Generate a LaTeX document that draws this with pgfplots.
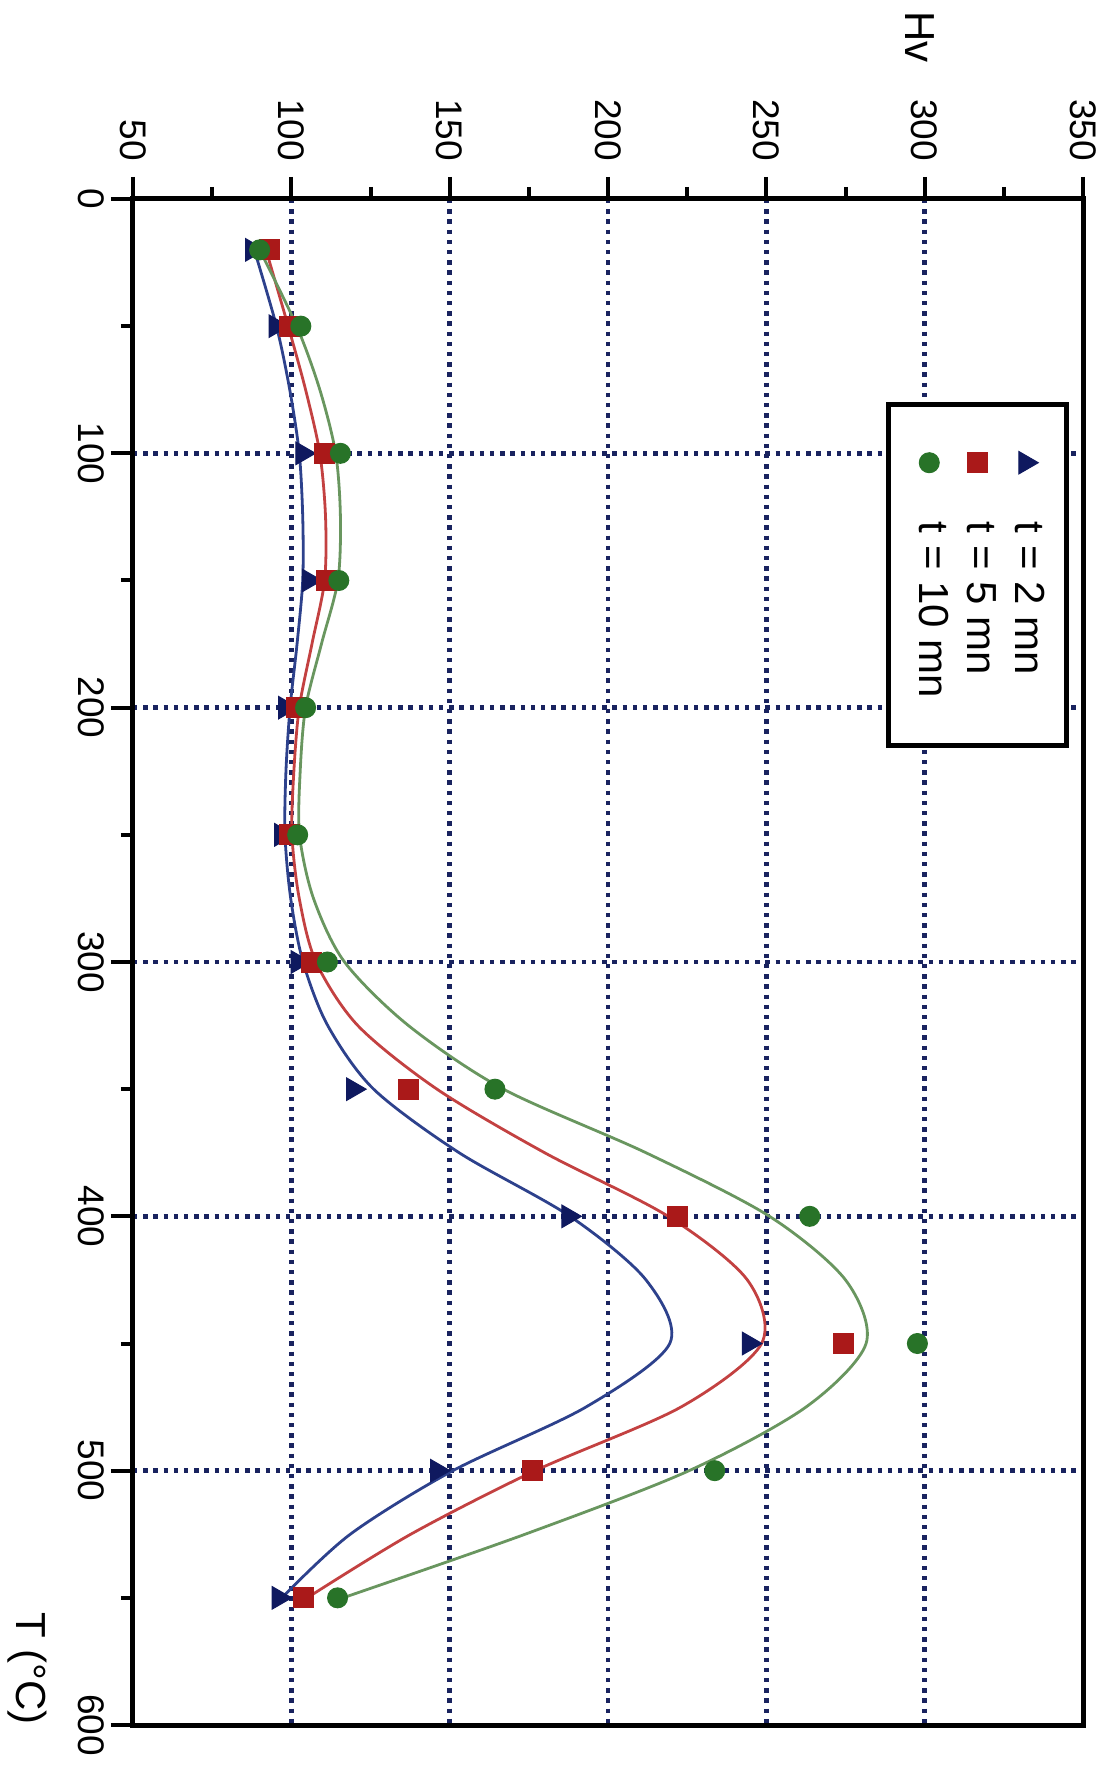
\documentclass[border=0pt]{standalone}
\usepackage{fontspec}
\setmainfont{Liberation Sans}
\usepackage{pgfplots}
\pgfplotsset{compat=1.18}
\usetikzlibrary{calc}
\definecolor{navyM}{RGB}{15,25,95}
\definecolor{redM}{RGB}{170,25,25}
\definecolor{greenM}{RGB}{40,115,40}
\definecolor{blueL}{RGB}{45,65,140}
\definecolor{redL}{RGB}{195,65,65}
\definecolor{greenL}{RGB}{105,150,95}
\definecolor{gridc}{RGB}{25,35,95}
\begin{document}
\begin{tikzpicture}[rotate=-90, transform shape]
\begin{axis}[
  scale only axis, width=763pt, height=475pt,
  xmin=0, xmax=600, ymin=50, ymax=350,
  xtick={0,100,...,600}, ytick={50,100,...,350},
  minor x tick num=1, minor y tick num=1,
  tick align=outside, xtick pos=bottom, ytick pos=left,
  major tick length=11pt, minor tick length=6pt,
  every tick/.style={black, line width=2pt},
  axis line style={line width=2.5pt},
  grid=major,
  major grid style={gridc, line width=2.2pt, dash pattern=on 2.2pt off 2.9pt},
  /pgf/number format/assume math mode=true,
  ticklabel style={font=\fontsize{18.5}{18.5}\selectfont},
  yticklabel style={xshift=-4.5pt},
  clip=false,
  legend cell align=left,
  legend image code/.code={\draw[#1] plot coordinates {(0pt,0pt)};},
  legend style={at={(axis description cs:0.133,0.985)}, anchor=north west,
    draw=black, line width=2.5pt, inner xsep=23.5pt, inner ysep=10.5pt,
    row sep=4pt, column sep=24pt, font=\fontsize{21}{21}\selectfont,
    nodes={inner sep=0pt, text height=15pt, text depth=5pt}},
]
% fitted curves
\addplot[blueL, line width=1.4pt, smooth, forget plot] coordinates {
(20,88.3) (50,95.3) (75,99.5) (100,102.5) (125,103.6) (150,103.6) (175,101.8) (200,99.6) (225,98.3) (250,98) (275,99.8) (300,103.7) (325,111.5) (350,126) (375,153) (400,188) (425,212) (450,219.5) (475,193) (500,151) (525,118.6) (550,97)};
\addplot[redL, line width=1.4pt, smooth, forget plot] coordinates {
(20,92) (50,99) (75,104.5) (100,109) (125,110.8) (150,110.5) (175,106.5) (200,102.5) (225,100.8) (250,100.2) (275,102.5) (300,107.8) (325,121) (350,146) (375,180) (400,219) (425,244) (450,248.5) (475,223) (500,177) (525,137.7) (550,105)};
\addplot[greenL, line width=1.4pt, smooth, forget plot] coordinates {
(20,90) (50,101.7) (75,109) (100,114) (125,115.5) (150,114.7) (175,109.5) (200,104.5) (225,102.8) (250,102.6) (275,107) (300,116.8) (325,137) (350,167) (375,212) (400,251) (425,275) (450,281.5) (475,262.5) (500,225.6) (525,173.8) (550,116.3)};
% measured points
\addplot[only marks, mark=triangle*, mark size=6.5pt, navyM, mark options={line width=0.5pt}] coordinates {
(20,87.6) (50,95) (100,103.5) (150,105.5) (200,98) (250,96.8) (300,102) (350,119.5) (400,187.5) (450,244.5) (500,146) (550,96)};
\addlegendentry{t = 2 mn}
\addplot[only marks, mark=square*, mark size=5pt, redM, mark options={line width=0.5pt}] coordinates {
(20,93) (50,99.3) (100,110.5) (150,111) (200,101.7) (250,99.5) (300,106.3) (350,137) (400,222) (450,274.4) (500,176) (550,103.7)};
\addlegendentry{t = 5 mn}
\addplot[only marks, mark=*, mark size=5pt, greenM, mark options={line width=0.5pt}] coordinates {
(20,90) (50,103) (100,115.5) (150,115) (200,104.5) (250,102) (300,111.4) (350,164.3) (400,263.7) (450,297.7) (500,233.7) (550,114.6)};
\addlegendentry{t = 10 mn}
\node[anchor=east, inner sep=0pt, font=\fontsize{21}{21}\selectfont, xshift=-68pt] at (axis description cs:0,0.828) {Hv};
\node[anchor=east, inner sep=0pt, font=\fontsize{21}{21}\selectfont, yshift=-53pt] at (axis description cs:1,0) {T (°C)};
\end{axis}
\pgfresetboundingbox
\path (current axis.south west) ++(-99.5pt,-66.5pt) rectangle ($(current axis.north east)+(20pt,17pt)$);
\end{tikzpicture}
\end{document}
